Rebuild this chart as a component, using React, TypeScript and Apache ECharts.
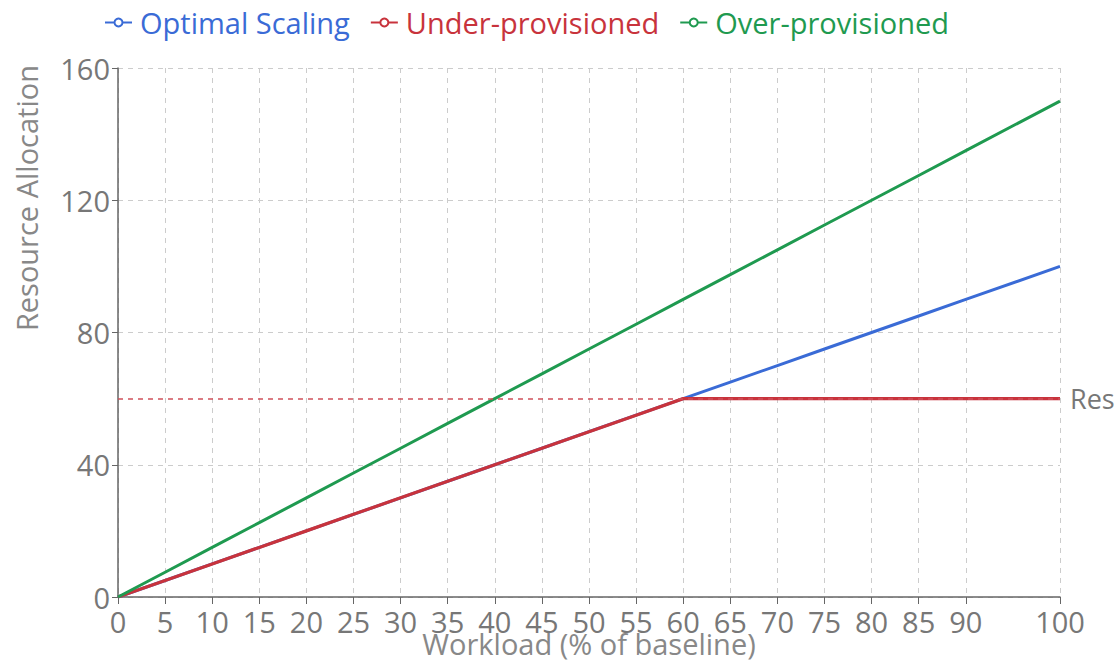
import React, { useEffect, useRef } from "react";
import * as echarts from "echarts";

const workload = [0, 5, 10, 15, 20, 25, 30, 35, 40, 45, 50, 55, 60, 65, 70, 75, 80, 85, 90, 100];
const optimal = [0, 5, 10, 15, 20, 25, 30, 35, 40, 45, 50, 55, 60, 65, 70, 75, 80, 85, 90, 100];
const under = [0, 5, 10, 15, 20, 25, 30, 35, 40, 45, 50, 55, 60, 60, 60, 60, 60, 60, 60, 60];
const over = [0, 7.5, 15, 22.5, 30, 37.5, 45, 52.5, 60, 67.5, 75, 82.5, 90, 97.5, 105, 112.5, 120, 127.5, 135, 150];
const yTicks = [0, 40, 80, 120, 160];
const limitValue = 60;
const limitLabel = "Res";

const BLUE = "#3a6bd6";
const RED = "#c8333c";
const GREEN = "#1f9a50";
const FONT = "Open Sans, Noto Sans, sans-serif";
const FS = 29;

export default function App() {
  const ref = useRef<HTMLDivElement>(null);
  useEffect(() => {
    if (!ref.current) return;
    const chart = echarts.init(ref.current, null, { renderer: "svg" });
    const pairs = (ys: number[]) => workload.map((x, i) => [x, ys[i]]);
    chart.setOption({
      animation: false,
      textStyle: { fontFamily: FONT },
      grid: { left: 118, right: 58, top: 68, bottom: 64, containLabel: false, outerBoundsMode: "none" },
      legend: {
        top: 3,
        left: 99,
        itemWidth: 27,
        itemHeight: 10,
        itemGap: 20,
        textStyle: { fontSize: FS, fontFamily: FONT, padding: [0, 0, 0, 3] },
        data: [
          { name: "Optimal Scaling", textStyle: { color: BLUE } },
          { name: "Under-provisioned", textStyle: { color: RED } },
          { name: "Over-provisioned", textStyle: { color: GREEN } },
        ],
      },
      graphic: [
        {
          type: "text",
          left: 12,
          top: 65,
          rotation: Math.PI / 2,
          style: { text: "Resource Allocation", fontSize: FS, fontFamily: FONT, fill: "#888" },
        },
      ],
      xAxis: {
        type: "value",
        min: 0,
        max: 100,
        name: "Workload (% of baseline)",
        nameLocation: "middle",
        nameGap: 32,
        nameMoveOverlap: false,
        nameTextStyle: { fontSize: FS, color: "#888", fontFamily: FONT, verticalAlign: "top" },
        axisLine: { lineStyle: { color: "#666", width: 1.5 } },
        axisTick: { show: true, length: 7, customValues: workload, lineStyle: { color: "#666" } },
        axisLabel: { customValues: workload, fontSize: FS, color: "#777", margin: 10, fontFamily: FONT },
        splitLine: { show: true, lineStyle: { type: [5, 5], color: "#ccc", width: 1 } },
      },
      yAxis: {
        type: "value",
        min: 0,
        max: 160,
        interval: 40,
        axisLine: { show: true, lineStyle: { color: "#666", width: 1.5 } },
        axisTick: { show: true, length: 6, lineStyle: { color: "#666" } },
        axisLabel: { fontSize: FS, color: "#777", margin: 8, fontFamily: FONT, customValues: yTicks },
        splitLine: { show: true, lineStyle: { type: [5, 5], color: "#ccc", width: 1 } },
      },
      series: [
        {
          name: "Optimal Scaling",
          type: "line",
          data: pairs(optimal),
          showSymbol: false,
          symbol: "emptyCircle",
          color: BLUE,
          lineStyle: { width: 3, color: BLUE },
        },
        {
          name: "Under-provisioned",
          type: "line",
          data: pairs(under),
          showSymbol: false,
          symbol: "emptyCircle",
          color: RED,
          lineStyle: { width: 3.2, color: RED },
          markLine: {
            silent: true,
            symbol: "none",
            itemStyle: { color: "#d0505a" },
            lineStyle: { type: [5, 5], color: "#d0505a", width: 1.5 },
            label: { position: "end", formatter: limitLabel, fontSize: FS - 2, color: "#777", distance: 10, fontFamily: FONT },
            data: [{ yAxis: limitValue }],
          },
        },
        {
          name: "Over-provisioned",
          type: "line",
          data: pairs(over),
          showSymbol: false,
          symbol: "emptyCircle",
          color: GREEN,
          lineStyle: { width: 3, color: GREEN },
        },
      ],
    });
    return () => chart.dispose();
  }, []);
  return (
    <div
      ref={ref}
      style={{ position: "absolute", left: 0, top: 0, width: 1118, height: 661, background: "#fff" }}
    />
  );
}
